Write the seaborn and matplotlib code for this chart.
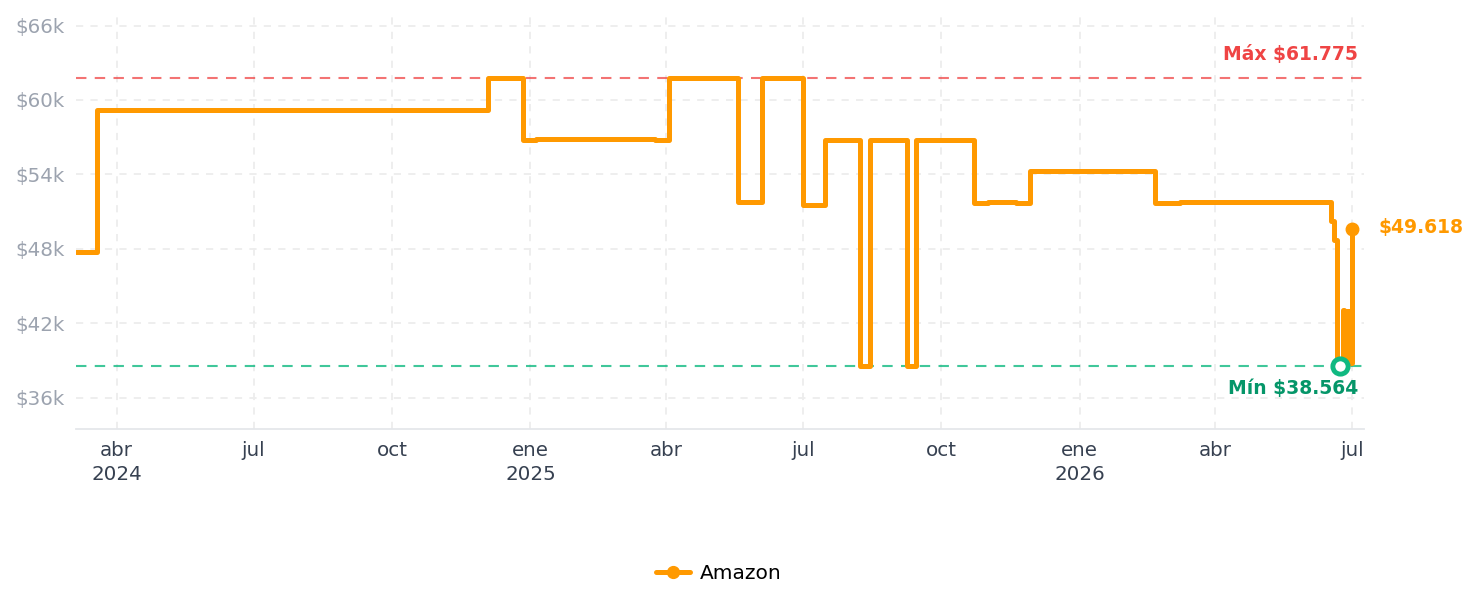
import pandas as pd
import numpy as np
import seaborn as sns
import matplotlib.pyplot as plt
from matplotlib.lines import Line2D


# Price history (each price holds until the next date)

fechas = ['2024-03-05', '2024-03-19', '2024-12-04', '2024-12-27', '2025-01-05',
          '2025-03-25', '2025-04-03', '2025-05-19', '2025-06-04', '2025-07-01',
          '2025-07-16', '2025-08-08', '2025-08-15', '2025-09-08', '2025-09-14',
          '2025-10-23', '2025-11-01', '2025-11-20', '2025-11-29', '2026-02-20',
          '2026-03-09', '2026-06-17', '2026-06-19', '2026-06-21', '2026-06-25',
          '2026-06-26', '2026-06-27', '2026-06-28', '2026-06-29', '2026-06-30',
          '2026-07-01']
precios = [47700, 59200, 61775, 56750, 56880,
           56750, 61775, 51770, 61775, 51530,
           56770, 38564, 56770, 38564, 56770,
           51670, 51800, 51670, 54280, 51680,
           51800, 50200, 48700, 38564, 43100,
           38800, 43000, 38700, 43000, 38800,
           49618]

precio_max = 61775
precio_min = 38564
fecha_min = '2026-06-23'
precio_actual = 49618

tick_fechas = ['2024-04-01', '2024-07-01', '2024-10-01', '2025-01-01', '2025-04-01',
               '2025-07-01', '2025-10-01', '2026-01-01', '2026-04-01', '2026-07-01']
tick_labels = ['abr\n2024', 'jul', 'oct', 'ene\n2025', 'abr',
               'jul', 'oct', 'ene\n2026', 'abr', 'jul']
y_ticks = [36000, 42000, 48000, 54000, 60000, 66000]
y_labels = ['$36k', '$42k', '$48k', '$54k', '$60k', '$66k']

naranja = '#FF9900'
rojo = '#EF4444'
verde = '#10B981'
verde_txt = '#059669'

df = pd.DataFrame({'fecha': pd.to_datetime(fechas), 'precio': precios})

sns.set_style('white')
plt.rcParams['font.family'] = ['DejaVu Sans']

fig = plt.figure(figsize=(14.79, 6.07), dpi=100)
ax = fig.add_axes([0.0514, 0.2933, 0.8708, 0.6820])

# Reference lines for max / min

ax.axhline(precio_max, color=rojo, alpha=0.75, lw=1.5, ls=(0, (5, 4)), zorder=1)
ax.axhline(precio_min, color=verde, alpha=0.8, lw=1.5, ls=(0, (5, 4)), zorder=1)

# Price line

sns.lineplot(data=df, x='fecha', y='precio', ax=ax, color=naranja, lw=3.6,
             drawstyle='steps-post', estimator=None, legend=False, zorder=3)

ultimo = df['fecha'].iloc[-1]
ax.plot([ultimo], [precio_actual], 'o', color=naranja, ms=9, zorder=4)
ax.plot([pd.Timestamp(fecha_min)], [precio_min], 'o', ms=11, mfc='white',
        mec=verde, mew=3.5, zorder=5)

# Labels

ax.annotate('Máx $61.775', xy=(1, precio_max), xycoords=('axes fraction', 'data'),
            xytext=(-6, 23), textcoords='offset pixels', ha='right', va='center',
            color=rojo, fontsize=13.5, fontweight='bold')
ax.annotate('Mín $38.564', xy=(1, precio_min), xycoords=('axes fraction', 'data'),
            xytext=(-6, -23), textcoords='offset pixels', ha='right', va='center',
            color=verde_txt, fontsize=13.5, fontweight='bold')
ax.annotate('$49.618', xy=(ultimo, precio_actual), xytext=(27, 1),
            textcoords='offset pixels', ha='left', va='center',
            color=naranja, fontsize=13.5, fontweight='bold', annotation_clip=False)

# Axes styling

ax.set_xlim(pd.Timestamp('2024-03-05'), pd.Timestamp('2026-07-09'))
ax.set_ylim(33470, 66850)
ax.set_xticks(pd.to_datetime(tick_fechas))
ax.set_xticklabels(tick_labels, linespacing=1.3)
ax.set_yticks(y_ticks)
ax.set_yticklabels(y_labels)
ax.set_xlabel('')
ax.set_ylabel('')
ax.tick_params(axis='y', length=0, pad=8, labelsize=14.3, labelcolor='#9CA3AF')
ax.tick_params(axis='x', length=0, pad=9, labelsize=14.3, labelcolor='#374151')
ax.grid(True, color='#EDEDED', ls=(0, (4, 4)), lw=1.3)
for s in ['top', 'right', 'left']:
    ax.spines[s].set_visible(False)
ax.spines['bottom'].set_color('#E5E7EB')
ax.spines['bottom'].set_linewidth(1.3)

# Legend at the bottom

handle = Line2D([], [], color=naranja, lw=3.6, marker='o', ms=8.5)
fig.legend(handles=[handle], labels=['Amazon'], loc='center',
           bbox_to_anchor=(0.486, 0.055), frameon=False, fontsize=14.5,
           handlelength=1.7, handletextpad=0.5, labelcolor='black')

plt.savefig('out.png', dpi=100)
